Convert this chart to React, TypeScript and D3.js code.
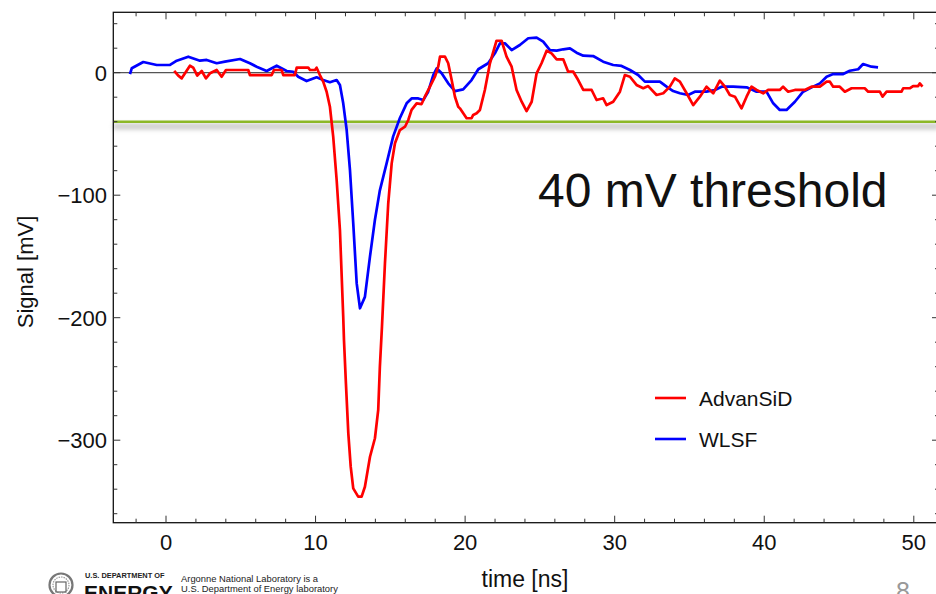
import React from "react";
import * as d3 from "d3";

// AdvanSiD (red) trace: time [ns], signal [mV]
const advTime = [0.55,0.82,1.05,1.27,1.6,1.82,2.09,2.39,2.67,2.94,3.39,3.72,4.01,5.5,5.61,7.07,7.22,7.73,7.84,8.62,8.74,9.51,9.63,9.96,10.07,10.29,10.51,10.74,10.96,11.18,11.41,11.63,11.85,11.9,12.03,12.19,12.35,12.52,12.85,13.08,13.3,13.64,13.97,14.19,14.3,14.44,14.64,14.86,15.09,15.31,15.64,15.98,16.2,16.42,16.76,17.09,17.31,17.65,17.98,18.2,18.32,18.65,18.87,19.1,19.32,19.54,19.65,20.1,20.43,20.54,20.77,20.99,21.32,21.66,22.1,22.44,22.77,23.11,23.44,23.78,24.11,24.45,24.78,25.11,25.45,25.78,26.12,26.56,26.89,27.23,27.56,27.9,28.46,28.79,29.23,29.46,29.9,30.35,30.68,31.02,31.46,31.91,32.24,32.8,33.25,33.69,34.02,34.36,34.81,35.25,35.7,36.14,36.59,37.03,37.37,37.7,38.04,38.48,38.82,39.15,39.49,39.93,40.26,41.04,41.26,41.6,42.05,42.71,43.16,43.72,44.17,44.39,44.61,45.05,45.39,45.84,46.72,46.95,47.73,47.91,48.18,49.18,49.29,49.73,49.95,50.29,50.4,50.58];
const advSignal = [1.4,-2.4,-4.6,-0.5,5.7,4.1,-2.4,1.4,-4.6,-0.5,2.2,-3.3,2.2,2.2,-1.9,-1.9,2.2,2.2,-1.9,-1.9,4.1,4.1,2.2,2.2,4.1,-1.9,-7.3,-15.5,-27.8,-52.2,-87.6,-128.4,-199.2,-218.2,-253.6,-294.4,-321.6,-339.3,-346.1,-346.1,-338,-313.5,-298.4,-275.3,-240,-207.3,-155.6,-106.6,-74,-57.6,-46.8,-44.1,-38.6,-30.4,-25,-25.6,-19.6,-11.4,-3.3,4.9,13.1,13.1,7.7,-6,-19.6,-27.8,-29.1,-37.2,-37.2,-34.5,-33.1,-30.4,-14.1,7.7,26.1,26.1,13.1,4.9,-14.1,-23.7,-31.3,-23.7,-0.5,7.7,18,15.8,10.9,10.9,0.8,0.8,-6,-14.1,-14.1,-22.3,-20.9,-26.4,-23.7,-15.5,-1.9,-3.3,-10,-12.7,-10.9,-18.2,-16.8,-11.4,-4.6,-7.3,-16.8,-26.4,-19.6,-11.4,-16.8,-6.5,-11.4,-18.2,-19.6,-29.1,-19.6,-11.4,-14.1,-16.8,-14.1,-14.1,-11.4,-15.5,-14.1,-14.1,-11.4,-11.4,-7.3,-7.3,-11.4,-11.4,-15.5,-12.7,-12.7,-15.5,-15.5,-19.6,-15.5,-15.5,-12.7,-12.7,-10.9,-10.9,-8.7,-11.4];

// WLSF (blue) trace: time [ns], signal [mV]
const wlsfTime = [-2.41,-2.29,-1.52,-0.62,0.27,0.72,1.49,2.27,2.72,3.39,3.94,4.95,5.61,6.06,6.73,7.4,8.07,8.51,8.84,9.4,10.07,10.51,10.96,11.41,11.63,11.85,12.08,12.3,12.52,12.75,12.97,13.3,13.64,13.97,14.3,14.75,15.19,15.64,16.09,16.42,16.87,17.2,17.53,17.87,18.1,18.43,18.87,19.32,19.87,20.43,20.88,21.54,21.99,22.33,22.66,23.11,23.66,24.22,24.78,25.22,25.67,26.12,26.56,27.01,27.45,27.9,28.56,29.23,29.9,30.46,31.02,31.57,32.02,32.57,33.02,33.47,33.91,34.36,34.91,35.36,36.14,36.7,37.15,37.92,38.82,39.49,40.15,40.6,41.04,41.49,42.05,42.6,43.27,43.72,44.17,44.61,45.28,45.72,46.28,46.61,47.17,47.61];
const wlsfSignal = [-1.1,3.6,8.7,6.3,6.3,9.8,13.1,9.8,10.4,7.7,9,11.2,7.7,4.9,1.4,5.7,1.4,0.8,-3.3,-6.8,-3.8,-6,-7.8,-6,-10,-25,-46.8,-79.4,-123,-172,-192.3,-183,-150,-120,-96,-74,-52,-37,-25,-21,-21,-22.3,-15.5,-1.9,3.6,-0.5,-8.7,-15,-13.6,-6,2.8,7.7,15.8,24,24,18.5,22.6,28.1,28.6,25.3,18.5,18,19.1,19.9,16.3,13.9,13.6,9,6.3,5.5,2.2,-1.9,-7.3,-7.3,-7.3,-11.4,-15,-16.8,-18.2,-15.5,-15.5,-14.1,-11.4,-11.4,-11.9,-15.5,-15.5,-25,-30.4,-30.4,-23.7,-15.5,-11.4,-8.7,-3.3,-1.1,-1.1,1.6,2.8,7.1,4.9,4.4];

const xTickLabels = [0, 10, 20, 30, 40, 50];
const yTickLabels = [0, -100, -200, -300];
const thresholdValue = -40;
const seriesNames = ["AdvanSiD", "WLSF"];
const seriesColors = ["#ff0000", "#0000ff"];

const W = 936;
const H = 594;
const FONT = "'Liberation Sans', Arial, Helvetica, sans-serif";

export default function App() {
  const x = d3.scaleLinear().domain([0, 50]).range([166, 913.8]);
  const y = d3.scaleLinear().domain([0, -300]).range([72.7, 440.2]);
  const left = 113.3;
  const right = 939;
  const top = 12.3;
  const bottom = 522.7;
  const xMin = x.invert(left);
  const xMax = x.invert(right);
  const yMin = y.invert(bottom);
  const yMax = y.invert(top);

  const line = d3
    .line<[number, number]>()
    .x((d) => x(d[0]))
    .y((d) => y(d[1]));

  const adv: [number, number][] = advTime.map((t, i) => [t, advSignal[i]]);
  const wlsf: [number, number][] = wlsfTime.map((t, i) => [t, wlsfSignal[i]]);

  const xMinor = d3.range(Math.ceil(xMin / 2) * 2, xMax, 2);
  const yMinor = d3.range(Math.ceil(yMin / 20) * 20, yMax, 20);

  const tickColor = "#333";
  const yThr = y(thresholdValue);

  return (
    <svg
      width={W}
      height={H}
      style={{ position: "absolute", left: 0, top: 0, background: "#fff" }}
      fontFamily={FONT}
    >
      <defs>
        <filter id="blur" filterUnits="userSpaceOnUse" x={0} y={yThr - 20} width={W} height={40}>
          <feGaussianBlur stdDeviation="2.2" />
        </filter>
        <clipPath id="plotclip">
          <rect x={left} y={top} width={right - left} height={bottom - top} />
        </clipPath>
      </defs>

      {/* threshold shadow */}
      <rect
        x={left}
        y={yThr + 1.5}
        width={right - left}
        height={6.5}
        fill="#a0a0a0"
        opacity={0.5}
        filter="url(#blur)"
      />

      {/* zero line */}
      <line x1={left} x2={right} y1={y(0)} y2={y(0)} stroke="#555" strokeWidth={1.2} />

      {/* threshold line */}
      <line x1={left} x2={right} y1={yThr} y2={yThr} stroke="#8cb828" strokeWidth={2.6} />

      <g clipPath="url(#plotclip)">
        <path d={line(wlsf) || ""} fill="none" stroke={seriesColors[1]} strokeWidth={2.7} strokeLinejoin="round" />
        <path d={line(adv) || ""} fill="none" stroke={seriesColors[0]} strokeWidth={2.7} strokeLinejoin="round" />
      </g>

      {/* frame */}
      <rect x={left} y={top} width={right - left} height={bottom - top} fill="none" stroke="#111" strokeWidth={1.3} />

      {/* x ticks */}
      {xMinor.map((t) => {
        const major = Math.abs(t % 10) < 1e-6;
        const len = major ? 7 : 4;
        return (
          <g key={"xt" + t}>
            <line x1={x(t)} x2={x(t)} y1={bottom} y2={bottom - len} stroke={tickColor} strokeWidth={1} />
            <line x1={x(t)} x2={x(t)} y1={top} y2={top + len} stroke={tickColor} strokeWidth={1} />
          </g>
        );
      })}
      {/* y ticks */}
      {yMinor.map((v) => {
        const major = Math.abs(v % 100) < 1e-6;
        const len = major ? 7 : 4;
        return (
          <g key={"yt" + v}>
            <line x1={left} x2={left + len} y1={y(v)} y2={y(v)} stroke={tickColor} strokeWidth={1} />
            <line x1={right} x2={right - len} y1={y(v)} y2={y(v)} stroke={tickColor} strokeWidth={1} />
          </g>
        );
      })}

      {/* tick labels */}
      {xTickLabels.map((t) => (
        <text key={"xl" + t} x={x(t)} y={550} textAnchor="middle" fontSize={22} fill="#111">
          {t}
        </text>
      ))}
      {yTickLabels.map((v) => (
        <text key={"yl" + v} x={107} y={y(v) + 8} textAnchor="end" fontSize={22} fill="#111">
          {v < 0 ? "\u2212" + Math.abs(v) : String(v)}
        </text>
      ))}

      {/* axis titles */}
      <text x={525} y={587} textAnchor="middle" fontSize={23} fill="#111">
        time [ns]
      </text>
      <text transform={`translate(33, 272) rotate(-90)`} textAnchor="middle" fontSize={22} fill="#111">
        Signal [mV]
      </text>

      {/* annotation */}
      <text x={538} y={207} fontSize={48} fill="#111">
        40 mV threshold
      </text>

      {/* legend */}
      {seriesNames.map((name, i) => (
        <g key={name} transform={`translate(0, ${398 + i * 41})`}>
          <line x1={655} x2={686} y1={0} y2={0} stroke={seriesColors[i]} strokeWidth={2.6} />
          <text x={699} y={7.5} fontSize={21} fill="#111">
            {name}
          </text>
        </g>
      ))}

      {/* footer: DOE logo */}
      <g>
        <circle cx={61} cy={585} r={11.5} fill="#fff" stroke="#777" strokeWidth={2.2} />
        <circle cx={61} cy={585} r={8} fill="none" stroke="#999" strokeWidth={1.2} strokeDasharray="1.5 1" />
        <rect x={56} y={582} width={10} height={10} fill="none" stroke="#666" strokeWidth={1.2} />
        <text x={85} y={578} fontSize={7.4} fontWeight="bold" fill="#222">
          U.S. DEPARTMENT OF
        </text>
        <text x={84} y={599.5} fontSize={21} fontWeight="900" fill="#111">
          ENERGY
        </text>
        <text x={181} y={582} fontSize={9.4} fill="#222">
          Argonne National Laboratory is a
        </text>
        <text x={181} y={591.5} fontSize={9.4} fill="#222">
          U.S. Department of Energy laboratory
        </text>
      </g>

      {/* page number */}
      <text x={903} y={600} textAnchor="middle" fontSize={25} fill="#999">
        8
      </text>
    </svg>
  );
}
